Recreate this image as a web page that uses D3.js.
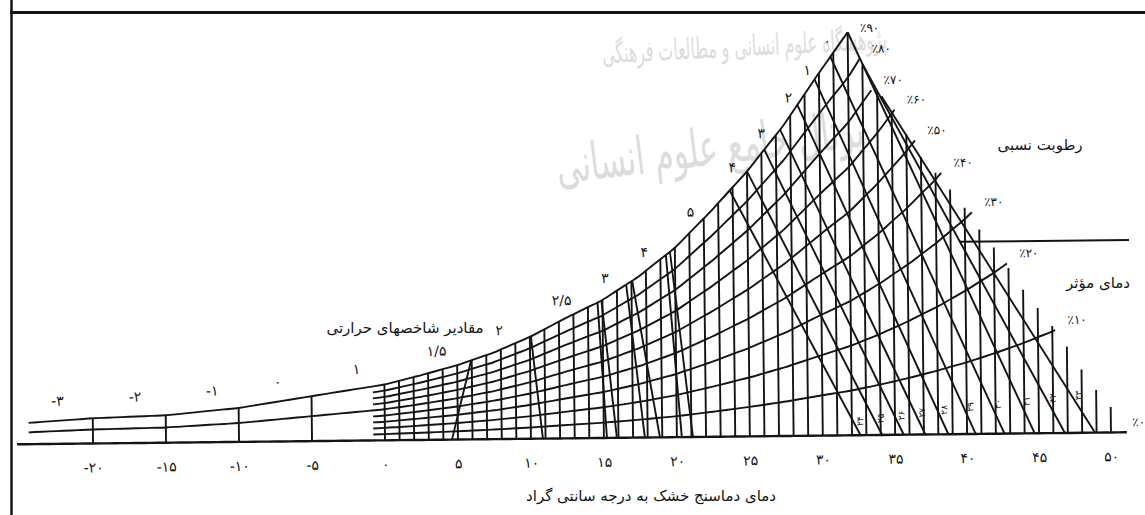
<!DOCTYPE html>
<html>
<head>
<meta charset="utf-8">
<script src="https://cdn.jsdelivr.net/npm/d3@7"></script>
<style>
  body { margin: 0; background: #fff; }
  svg { display: block; font-family: "DejaVu Sans", sans-serif; }
</style>
</head>
<body>
<svg id="chart" width="1145" height="515"></svg>
<script>
var esTemps  = [-25, -20, -15, -10, -5, 0, 2.5, 5, 7.5, 10, 12.5, 15, 17.5, 20, 22.5, 25, 27.5, 30, 32, 34, 36, 38, 40, 42, 44, 46, 48, 50];
var esValues = [1.9, 2.3, 2.5, 3.1, 4.1, 5.1, 5.9, 6.8, 7.9, 9.3, 11.0, 12.6, 14.7, 17.3, 20.6, 24.2, 28.3, 33.1, 36.8, 41.4, 46.6, 52.4, 58.9, 66.2, 74.4, 83.6, 94, 105.6];

// relative humidity curves (%), where each starts and stops (°C)
var rhLevels = [0, 10, 20, 30, 40, 50, 60, 70, 80, 90];
var rhStartT = [-25.2, -0.8, -0.8, -0.8, -0.8, -24.4, -0.8, -0.8, -0.8, -24.4];
var rhEndT   = [51.1, 46.2, 42.9, 40.5, 38.4, 36.6, 35.2, 33.6, 32.8, 32];

// vertical grid: left stations and tops of the lines past the 90% peak (mmHg)
var leftGridT = [-20, -15, -10, -5];
var stairT   = [33, 34, 35, 36, 37, 38, 39, 40, 41, 42, 43, 44, 45, 46, 47, 48, 49, 50];
var stairTop = [30.4, 28.2, 26.3, 24.7, 22.8, 21.5, 20.1, 18.6, 16.8, 15.3, 13.6, 11.8, 10.3, 8.8, 7.1, 5.2, 3.5, 2.1];

// thermal index boundaries: temperature on the envelope and on the base
var indexTopT  = [5.96, 10.07, 14.66, 14.93, 16.64, 17.05, 19.38, 19.66];
var indexBaseT = [4.59, 10.82, 15.21, 15.89, 17.81, 18.84, 20.34, 21.1];
var indexLabels = [-3, -2, -1, 0, 1, 1.5, 2, 2.5, 3, 4, 5, 4, 3, 2, 1, 0];
var indexLabelT = [-22.4, -17.1, -11.8, -7.3, -1.9, 3.6, 7.9, 12.2, 15.2, 17.9, 21.1, 24.0, 26.0, 27.9, 29.2, 30.6];

// effective temperature lines
var etValues = [24, 25, 26, 27, 28, 29, 30, 31, 32, 33];
var etTopT   = [23.8, 25.0, 26.2, 27.3, 28.5, 29.7, 30.8, 32.0, 33.0, 34.3];
var etTopRH  = [90, 90, 90, 90, 90, 90, 90, 90, 78, 66];
var etBaseT  = [32.6, 34.1, 35.6, 37.1, 38.7, 40.6, 42.6, 44.7, 46.8, 48.9];

var xTicks = [-20, -15, -10, -5, 0, 5, 10, 15, 20, 25, 30, 35, 40, 45, 50];

var svg = d3.select('#chart');
var ink = '#141414';

var x = d3.scaleLinear().domain([-20, 0, 32, 50]).range([93, 385, 852, 1111]);
var y = d3.scaleLinear().domain([0, 40]).range([438, 438 - 40 * 12.17]);
var es = d3.scaleLinear().domain(esTemps).range(esValues);

function vp(rh, t) { return rh / 100 * es(t); }
function fa(v) {
  return String(v).replace(/\d/g, function(d) { return '۰۱۲۳۴۵۶۷۸۹'[+d]; }).replace('.', '/');
}

// watermark
var wm = svg.append('g').attr('fill', '#dcdcdc').attr('text-anchor', 'middle');
wm.append('text').attr('transform', 'translate(745,56) rotate(-3)')
  .attr('font-size', 29).attr('textLength', 285).attr('lengthAdjust', 'spacingAndGlyphs')
  .text('پژوهشگاه علوم انسانی و مطالعات فرهنگی');
wm.append('text').attr('transform', 'translate(712,165) rotate(-7)')
  .attr('font-size', 52).attr('textLength', 310).attr('lengthAdjust', 'spacingAndGlyphs')
  .text('پرتال جامع علوم انسانی');

// frame
svg.append('line').attr('x1', 11.5).attr('y1', 0).attr('x2', 11.5).attr('y2', 515)
  .attr('stroke', ink).attr('stroke-width', 2.5);
svg.append('line').attr('x1', 10).attr('y1', 12.5).attr('x2', 1145).attr('y2', 12.5)
  .attr('stroke', ink).attr('stroke-width', 3);

var tilt = 'rotate(-0.62,600,438)';
var g = svg.append('g').attr('transform', tilt)
  .attr('stroke', ink).attr('fill', 'none').attr('stroke-width', 1.9);

// vertical dry-bulb lines
var gridT = leftGridT.concat(d3.range(0, 33));
g.selectAll('line.v').data(gridT).join('line').attr('class', 'v')
  .attr('x1', function(d) { return x(d); }).attr('x2', function(d) { return x(d); })
  .attr('y1', y(0)).attr('y2', function(d) { return y(vp(90, d)); });
g.selectAll('line.s').data(stairT).join('line').attr('class', 's')
  .attr('x1', function(d) { return x(d); }).attr('x2', function(d) { return x(d); })
  .attr('y1', y(0)).attr('y2', function(d, i) { return y(stairTop[i]); });

// relative humidity curves
var curve = d3.line().x(function(d) { return x(d[0]); }).y(function(d) { return y(d[1]); })
  .curve(d3.curveMonotoneX);
rhLevels.forEach(function(r, i) {
  var t0 = rhStartT[i], t1 = rhEndT[i];
  var ts = esTemps.concat(d3.range(Math.ceil(t0), Math.floor(t1) + 1))
    .filter(function(t) { return t > t0 && t < t1; });
  ts = Array.from(new Set(ts)).sort(d3.ascending);
  ts = [t0].concat(ts, [t1]);
  g.append('path')
    .attr('d', curve(ts.map(function(t) { return [t, vp(r, t)]; })))
    .attr('stroke-width', r === 0 ? 2.4 : 1.9);
});

// thermal index boundaries
var seg = d3.line();
indexTopT.forEach(function(t, i) {
  g.append('path').attr('d', seg([[x(t), y(vp(90, t))], [x(indexBaseT[i]), y(0)]]));
});

// effective temperature lines
etValues.forEach(function(v, i) {
  g.append('path').attr('d', seg([[x(etTopT[i]), y(vp(etTopRH[i], etTopT[i]))], [x(etBaseT[i]), y(0)]]));
});

// legend rule between the two captions
g.append('path').attr('d', seg([[x(39.6), y(15.8)], [x(51.4), y(15.8)]]));

// texts inside the tilted frame
var tl = svg.append('g').attr('transform', tilt).attr('fill', ink);

var axis = tl.append('g').attr('transform', 'translate(0,' + y(0) + ')')
  .call(d3.axisBottom(x).tickValues(xTicks).tickSize(0).tickPadding(19).tickFormat(fa));
axis.select('.domain').remove();
axis.attr('font-family', '"DejaVu Sans", sans-serif').attr('font-size', 14);
axis.selectAll('text').attr('fill', ink);

tl.selectAll('text.zone').data(indexLabels).join('text').attr('class', 'zone')
  .attr('text-anchor', 'middle').attr('font-size', 14)
  .attr('x', function(d, i) { return x(indexLabelT[i]); })
  .attr('y', function(d, i) { return y(vp(90, indexLabelT[i])) - 15; })
  .text(fa);

rhLevels.forEach(function(r, i) {
  var t = rhEndT[i];
  var dx = 22, dy = -10;
  if (r === 90) { dx = 22; dy = -4; }
  if (r === 0) { dx = 12; dy = -10; }
  tl.append('text').attr('text-anchor', 'middle').attr('dominant-baseline', 'central')
    .attr('font-size', 12)
    .attr('x', x(t) + dx).attr('y', y(vp(r, t)) + dy)
    .text('٪' + fa(r));
});

etValues.forEach(function(v, i) {
  var xt = x(etTopT[i]), yt = y(vp(etTopRH[i], etTopT[i]));
  var xb = x(etBaseT[i]), yb = y(0);
  var ly = yb - (14 + 2.6 * i);
  var f = (yb - ly) / (yb - yt);
  var lx = xb + (xt - xb) * f + 7;
  tl.append('text').attr('font-size', 9).attr('text-anchor', 'middle')
    .attr('dominant-baseline', 'central')
    .attr('transform', 'translate(' + lx + ',' + ly + ') rotate(-90)')
    .text(fa(v));
});

// captions
var cap = svg.append('g').attr('fill', ink).attr('text-anchor', 'middle').attr('font-size', 15);
cap.append('text').attr('x', 405).attr('y', 333).text('مقادیر شاخصهای حرارتی');
cap.append('text').attr('x', 1040).attr('y', 150).text('رطوبت نسبی');
cap.append('text').attr('x', 1098).attr('y', 288).text('دمای مؤثر');
cap.append('text').attr('x', 651).attr('y', 501).text('دمای دماسنج خشک به درجه سانتی گراد');
</script>
</body>
</html>
